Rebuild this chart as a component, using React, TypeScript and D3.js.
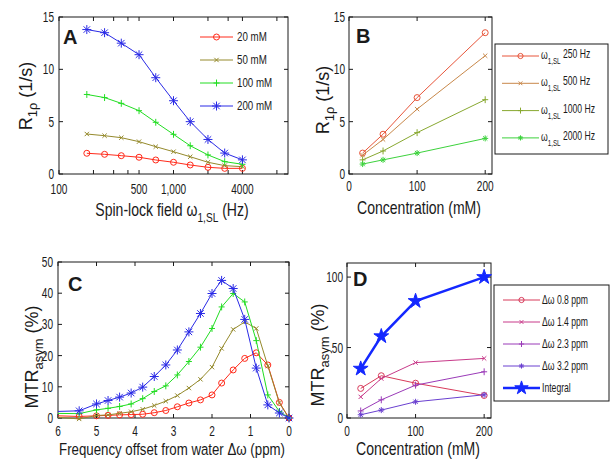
import React, { useRef, useEffect } from "react";
import * as d3 from "d3";

// panel A: R1rho against spin-lock field, one line per concentration
const spinLockHz = [175, 250, 350, 500, 700, 1000, 1400, 2000, 2800, 4000];
const a20mM = [1.98, 1.88, 1.75, 1.6, 1.34, 1.12, 0.86, 0.64, 0.54, 0.54];
const a50mM = [3.82, 3.66, 3.47, 3.09, 2.61, 2.13, 1.65, 1.12, 0.8, 0.7];
const a100mM = [7.6, 7.3, 6.75, 6.05, 4.94, 3.79, 2.7, 1.82, 1.18, 0.93];
const a200mM = [13.8, 13.5, 12.5, 11.4, 9.2, 7.0, 5.0, 3.3, 2.0, 1.35];
const aNames = ["20 mM", "50 mM", "100 mM", "200 mM"];
const aTicks = [100, 200, 300, 400, 500, 1000, 2000, 3000, 4000, 8000];
const aTickText: Record<number, string> = { 100: "100", 500: "500", 1000: "1,000", 4000: "4000" };

// panel B: R1rho against concentration, one line per spin-lock field
const concB = [20, 50, 100, 200];
const b250 = [2.0, 3.8, 7.3, 13.5];
const b500 = [1.8, 3.3, 6.2, 11.3];
const b1000 = [1.35, 2.2, 3.95, 7.1];
const b2000 = [0.95, 1.35, 2.0, 3.4];
const bNames = ["250 Hz", "500 Hz", "1000 Hz", "2000 Hz"];

// panel C: MTRasym spectra (first point lies left of the axis, line is clipped)
const offsetPpm = [6.3, 5.45, 5.0, 4.7, 4.4, 4.1, 3.8, 3.5, 3.2, 2.9, 2.6, 2.3, 2.0, 1.75, 1.45, 1.15, 0.85, 0.55, 0.25, 0];
const c20mM = [0.8, 0.5, 0.7, 0.85, 1.0, 1.1, 1.2, 1.7, 2.4, 3.6, 4.8, 5.8, 7.4, 11.2, 15.4, 19.1, 20.9, 17.0, 5.0, 0];
const c50mM = [0.5, -0.3, 0.8, 1.0, 1.5, 2.0, 2.8, 4.0, 5.4, 7.2, 9.6, 12.4, 16.3, 22.3, 28.4, 30.8, 28.7, 16.7, 4.8, 0];
const c100mM = [1.5, 1.4, 2.6, 3.1, 3.7, 4.5, 6.2, 8.5, 10.3, 13.8, 18.1, 22.7, 28.7, 35.6, 39.9, 37.2, 24.8, 7.4, 2.1, 0];
const c200mM = [2.0, 2.3, 4.5, 5.6, 6.7, 8.0, 9.9, 13.3, 17.0, 21.8, 27.6, 33.5, 39.9, 44.1, 41.5, 31.6, 16.0, 4.2, 1.6, 0];

// panel D: MTRasym at fixed offsets and the integral, against concentration
const concD = [20, 50, 100, 200];
const d08 = [21, 30, 24.7, 16];
const d14 = [15, 28, 39.3, 42.3];
const d23 = [5, 12.9, 23.3, 32.8];
const d32 = [2.3, 5.6, 11.5, 16.5];
const dIntegral = [35, 58, 83, 100];
const dNames = ["0.8 ppm", "1.4 ppm", "2.3 ppm", "3.2 ppm"];

const FONT = "'Liberation Sans', Arial, sans-serif";
const INK = "#1a1a1a";

// [text, baseline shift, relative size]
type Part = [string, number?, number?];

function txt(g: any, x: number, y: number, parts: Part[], o: any) {
  const t = g
    .append("text")
    .attr("transform", `translate(${x},${y})${o.rot ? " rotate(-90)" : ""} scale(${o.sx ?? 1},1)`)
    .attr("font-family", FONT)
    .attr("font-size", o.size)
    .attr("font-weight", o.weight ?? "normal")
    .attr("text-anchor", o.anchor ?? "start")
    .attr("fill", o.fill ?? INK);
  let prev = 0;
  parts.forEach(([s, sh = 0, rel]) => {
    t.append("tspan")
      .attr("dy", sh - prev)
      .attr("font-size", o.size * (rel ?? (sh > 0 ? 0.72 : 1)))
      .text(s);
    prev = sh;
  });
  return t;
}

function markerPath(type: string, s: number) {
  const k = s * 0.72;
  switch (type) {
    case "o":
      return `M${s},0A${s},${s} 0 1,1 ${-s},0A${s},${s} 0 1,1 ${s},0Z`;
    case "x":
      return `M${-k},${-k}L${k},${k}M${-k},${k}L${k},${-k}`;
    case "+":
      return `M${-s},0H${s}M0,${-s * 1.15}V${s * 1.15}`;
    case "*":
      return `M${-s},0H${s}M0,${-s}V${s}M${-k},${-k}L${k},${k}M${-k},${k}L${k},${-k}`;
    default:
      return d3.symbol(d3.symbolStar, s * s * 3.2)() as string;
  }
}

function drawFrame(g: any, x: any, y: any, xTicks: number[], yTicks: number[], xFmt: (d: number) => string, yFmt: (d: number) => string, tickY: number, yLabRight: number) {
  const [x0, x1] = d3.extent(x.range()) as number[];
  const [y1, y0] = d3.extent(y.range()) as number[];
  g.append("rect")
    .attr("x", x0).attr("y", y1).attr("width", x1 - x0).attr("height", y0 - y1)
    .attr("fill", "none").attr("stroke", INK).attr("stroke-width", 1);
  g.append("g").selectAll("path").data(xTicks).join("path")
    .attr("d", (d: number) => `M${x(d)},${y0}v-4M${x(d)},${y1}v4`)
    .attr("stroke", INK).attr("stroke-width", 1);
  g.append("g").selectAll("path").data(yTicks).join("path")
    .attr("d", (d: number) => `M${x0},${y(d)}h4M${x1},${y(d)}h-4`)
    .attr("stroke", INK).attr("stroke-width", 1);
  xTicks.forEach((d) => {
    const s = xFmt(d);
    if (s) txt(g, x(d), tickY, [[s]], { size: 14, sx: 0.72, anchor: "middle" });
  });
  yTicks.forEach((d) => txt(g, yLabRight, y(d) + 5, [[yFmt(d)]], { size: 14, sx: 0.72, anchor: "end" }));
}

function drawSeries(g: any, x: any, y: any, xs: number[], ys: number[], color: string, marker: string, msize: number, width = 1, clipId?: string) {
  const pts = xs.map((d, i) => [x(d), y(ys[i])] as [number, number]);
  const line = g.append("path")
    .attr("d", d3.line()(pts))
    .attr("fill", "none").attr("stroke", color).attr("stroke-width", width);
  if (clipId) line.attr("clip-path", `url(#${clipId})`);
  const [lo, hi] = d3.extent(x.domain()) as number[];
  g.append("g").selectAll("path").data(xs.map((d, i) => i).filter((i) => xs[i] >= lo && xs[i] <= hi)).join("path")
    .attr("transform", (i: number) => `translate(${pts[i][0]},${pts[i][1]})`)
    .attr("d", markerPath(marker, msize))
    .attr("fill", marker === "p" ? color : "none")
    .attr("stroke", color).attr("stroke-width", 1);
}

function legendRow(g: any, x0: number, x1: number, yy: number, color: string, marker: string, msize: number, width = 1) {
  g.append("path").attr("d", `M${x0},${yy}H${x1}`).attr("stroke", color).attr("stroke-width", width);
  g.append("path").attr("transform", `translate(${(x0 + x1) / 2},${yy})`)
    .attr("d", markerPath(marker, msize))
    .attr("fill", marker === "p" ? color : "none").attr("stroke", color);
}

const App = () => {
  const svgRef = useRef<SVGSVGElement>(null);

  useEffect(() => {
    const svg = d3.select(svgRef.current);
    svg.selectAll("*").remove();
    svg.append("rect").attr("width", 612).attr("height", 459).attr("fill", "#fff");

    // ---------- A ----------
    const gA = svg.append("g");
    const xA = d3.scaleLog().domain([100, 10000]).range([59, 288]);
    const yA = d3.scaleLinear().domain([0, 15]).range([174, 17]);
    drawFrame(gA, xA, yA, aTicks, [0, 5, 10, 15], (d) => aTickText[d] ?? "", (d) => String(d), 194, 54);
    const aColors = ["#ff2a1a", "#958a2c", "#22dd22", "#2a2ae6"];
    const aMarks = ["o", "x", "+", "*"];
    [a20mM, a50mM, a100mM, a200mM].forEach((ys, i) =>
      drawSeries(gA, xA, yA, spinLockHz, ys, aColors[i], aMarks[i], i === 3 ? 4.5 : 3));
    aNames.forEach((n, i) => {
      const yy = 37 + i * 23;
      legendRow(gA, 200, 233, yy, aColors[i], aMarks[i], i === 3 ? 4.5 : 3);
      txt(gA, 237, yy + 4, [[n]], { size: 12.5, sx: 0.78 });
    });
    txt(gA, 63, 44, [["A"]], { size: 20, weight: "bold" });
    txt(gA, 32, 96, [["R"], ["1ρ", 5], [" (1/s)"]], { size: 18, rot: true, anchor: "middle" });
    txt(gA, 172, 216, [["Spin-lock field ω"], ["1,SL", 6], [" (Hz)"]], { size: 18, sx: 0.78, anchor: "middle" });

    // ---------- B ----------
    const gB = svg.append("g");
    const xB = d3.scaleLinear().domain([0, 210]).range([349, 492]);
    const yB = d3.scaleLinear().domain([0, 15]).range([174, 17]);
    drawFrame(gB, xB, yB, [0, 100, 200], [0, 5, 10, 15], (d) => String(d), (d) => String(d), 191, 345);
    const bColors = ["#e8553a", "#c8884a", "#88a830", "#3cd23c"];
    const bMarks = ["o", "x", "+", "*"];
    [b250, b500, b1000, b2000].forEach((ys, i) =>
      drawSeries(gB, xB, yB, concB, ys, bColors[i], bMarks[i], 3));
    gB.append("rect").attr("x", 495).attr("y", 44).attr("width", 113).attr("height", 110)
      .attr("fill", "#fff").attr("stroke", INK);
    bNames.forEach((n, i) => {
      const yy = 56 + i * 27.3;
      legendRow(gB, 502, 539, yy, bColors[i], bMarks[i], 2.6);
      txt(gB, 541, yy + 3, [["ω"], ["1,SL", 5], [" " + n, -1, 1]], { size: 12, sx: 0.72 });
    });
    txt(gB, 356, 43, [["B"]], { size: 20, weight: 900 });
    txt(gB, 329, 100, [["R"], ["1ρ", 5], [" (1/s)"]], { size: 18, rot: true, anchor: "middle" });
    txt(gB, 419, 214, [["Concentration (mM)"]], { size: 18, sx: 0.78, anchor: "middle" });

    // ---------- C ----------
    const gC = svg.append("g");
    const xC = d3.scaleLinear().domain([6, 0]).range([58, 289]);
    const yC = d3.scaleLinear().domain([0, 50]).range([418, 262]);
    svg.append("clipPath").attr("id", "clipC").append("rect")
      .attr("x", 58).attr("y", 240).attr("width", 240).attr("height", 190);
    drawFrame(gC, xC, yC, [6, 5, 4, 3, 2, 1, 0], [0, 10, 20, 30, 40, 50], (d) => String(d), (d) => String(d), 436, 53);
    const cMarks = ["o", "x", "+", "*"];
    [c20mM, c50mM, c100mM, c200mM].forEach((ys, i) =>
      drawSeries(gC, xC, yC, offsetPpm, ys, aColors[i], cMarks[i], i === 3 ? 4.5 : 3, 1, "clipC"));
    txt(gC, 68, 291, [["C"]], { size: 20, weight: "bold" });
    txt(gC, 38, 357, [["MTR"], ["asym", 5], [" (%)"]], { size: 18, rot: true, anchor: "middle" });
    txt(gC, 172, 455, [["Frequency offset from water Δω (ppm)"]], { size: 17, sx: 0.78, anchor: "middle" });

    // ---------- D ----------
    const gD = svg.append("g");
    const xD = d3.scaleLinear().domain([0, 210]).range([347, 491]);
    const yD = d3.scaleLinear().domain([0, 110]).range([418, 263]);
    drawFrame(gD, xD, yD, [0, 100, 200], [0, 50, 100], (d) => String(d), (d) => String(d), 436, 343);
    const dColors = ["#d83a5a", "#c83a8a", "#9a3ab8", "#6a40d0"];
    const dMarks = ["o", "x", "+", "*"];
    [d08, d14, d23, d32].forEach((ys, i) =>
      drawSeries(gD, xD, yD, concD, ys, dColors[i], dMarks[i], 3));
    drawSeries(gD, xD, yD, concD, dIntegral, "#1428ff", "p", 4.6, 2.5);
    gD.append("rect").attr("x", 494).attr("y", 285).attr("width", 115).attr("height", 116)
      .attr("fill", "#fff").attr("stroke", INK);
    dNames.forEach((n, i) => {
      const yy = 300 + i * 22;
      legendRow(gD, 503, 540, yy, dColors[i], dMarks[i], 2.6);
      txt(gD, 542, yy + 4, [["Δω " + n]], { size: 12, sx: 0.72 });
    });
    legendRow(gD, 503, 540, 388, "#1428ff", "p", 4.2, 2.5);
    txt(gD, 542, 392, [["Integral"]], { size: 12, sx: 0.72 });
    txt(gD, 353, 286, [["D"]], { size: 20, weight: 900 });
    txt(gD, 324, 355, [["MTR"], ["asym", 5], [" (%)"]], { size: 18, rot: true, anchor: "middle" });
    txt(gD, 418, 455, [["Concentration (mM)"]], { size: 18, sx: 0.78, anchor: "middle" });
  }, []);

  return (
    <svg ref={svgRef} width="612" height="459" style={{ position: "absolute", left: 0, top: 0 }}></svg>
  );
};

export default App;
